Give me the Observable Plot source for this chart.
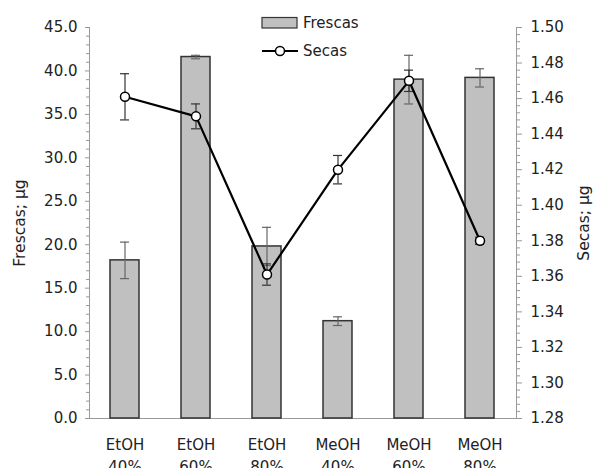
<!DOCTYPE html>
<html>
<head>
<meta charset="utf-8">
<script src="https://cdn.jsdelivr.net/npm/d3@7"></script>
<script src="https://cdn.jsdelivr.net/npm/@observablehq/plot@0.6"></script>
<style>
  html, body { margin: 0; padding: 0; background: #fff; }
  #wrap { position: relative; width: 595px; height: 468px; font-family: "DejaVu Sans", "Liberation Sans", Arial, sans-serif; color: #222; }
  .ytitle { position: absolute; font-size: 15.5px; white-space: nowrap; transform-origin: center center; }
  #legend { position: absolute; left: 261px; top: 12px; font-size: 15px; }
  #legend .row { display: flex; align-items: center; height: 22px; margin-bottom: 6px; }
  #legend svg { margin-right: 4px; }
</style>
</head>
<body>
<div id="wrap"></div>
<script>
const solvents = ["EtOH", "EtOH", "EtOH", "MeOH", "MeOH", "MeOH"];
const concentrations = ["40%", "60%", "80%", "40%", "60%", "80%"];
const frescas = [18.2, 41.6, 19.8, 11.2, 39.0, 39.2];
const frescasErr = [2.1, 0.2, 2.2, 0.5, 2.8, 1.05];
const secas = [1.461, 1.450, 1.361, 1.420, 1.470, 1.380];
const secasErr = [0.013, 0.007, 0.006, 0.008, 0.006, 0.002];
const leftTicks = [0, 5, 10, 15, 20, 25, 30, 35, 40, 45];
const rightTicks = [1.28, 1.30, 1.32, 1.34, 1.36, 1.38, 1.40, 1.42, 1.44, 1.46, 1.48, 1.50];
const leftDomain = [0, 45];
const rightDomain = [1.28, 1.50];

const toLeft = v => (v - rightDomain[0]) / (rightDomain[1] - rightDomain[0]) * (leftDomain[1] - leftDomain[0]) + leftDomain[0];
const fromLeft = y => (y - leftDomain[0]) / (leftDomain[1] - leftDomain[0]) * (rightDomain[1] - rightDomain[0]) + rightDomain[0];

const data = solvents.map((s, i) => ({
  cat: s + "\n" + concentrations[i],
  fr: frescas[i], frLo: frescas[i] - frescasErr[i], frHi: frescas[i] + frescasErr[i],
  se: toLeft(secas[i]), seLo: toLeft(secas[i] - secasErr[i]), seHi: toLeft(secas[i] + secasErr[i])
}));
const cats = data.map(d => d.cat);

const leftMinor = d3.range(0, 45.001, 1).filter(v => v % 5 !== 0);
const rightMinor = d3.range(0, 56).map(i => toLeft(1.28 + i * 0.004)).filter((v, i) => i % 5 !== 0);

const axisColor = "#999";
const font = "DejaVu Sans, Liberation Sans, Arial, sans-serif";

const chart = Plot.plot({
  width: 595,
  height: 468,
  marginLeft: 89,
  marginRight: 79,
  marginTop: 27,
  marginBottom: 50,
  style: { fontFamily: font, fontSize: "15px", color: "#222", background: "#fff" },
  x: { type: "band", domain: cats, paddingInner: 0.59, paddingOuter: 0.295, axis: null },
  y: { domain: leftDomain, axis: null },
  marks: [
    Plot.frame({ anchor: "left", stroke: axisColor }),
    Plot.frame({ anchor: "right", stroke: axisColor }),
    Plot.ruleY([0], { stroke: axisColor }),
    Plot.axisY(leftTicks, { anchor: "left", tickSize: 4, tickPadding: 8, stroke: axisColor, tickFormat: d => d.toFixed(1), label: null, fill: "#222", fontSize: 15 }),
    Plot.axisY(leftMinor, { anchor: "left", tickSize: 3, stroke: axisColor, tickFormat: () => "", label: null }),
    Plot.axisY(rightTicks.map(toLeft), { anchor: "right", tickSize: 5, tickPadding: 9, stroke: axisColor, tickFormat: d => fromLeft(d).toFixed(2), label: null, fill: "#222", fontSize: 15 }),
    Plot.axisY(rightMinor, { anchor: "right", tickSize: 3, stroke: axisColor, tickFormat: () => "", label: null }),
    Plot.axisX(cats, { anchor: "bottom", tickSize: 0, tickPadding: 16, label: null, fontSize: 15, fill: "#222", lineHeight: 1.45 }),
    Plot.barY(data, { x: "cat", y: "fr", fill: "#c0c0c0", stroke: "#333", strokeWidth: 1.5 }),
    Plot.ruleX(data, { x: "cat", y1: "frLo", y2: "frHi", stroke: "#666", strokeWidth: 1.2 }),
    Plot.tickY(data, { x: "cat", y: "frLo", stroke: "#666", strokeWidth: 1.2, insetLeft: 10, insetRight: 10 }),
    Plot.tickY(data, { x: "cat", y: "frHi", stroke: "#666", strokeWidth: 1.2, insetLeft: 10, insetRight: 10 }),
    Plot.ruleX(data, { x: "cat", y1: "seLo", y2: "seHi", stroke: "#333", strokeWidth: 1.2 }),
    Plot.tickY(data, { x: "cat", y: "seLo", stroke: "#333", strokeWidth: 1.2, insetLeft: 10, insetRight: 10 }),
    Plot.tickY(data, { x: "cat", y: "seHi", stroke: "#333", strokeWidth: 1.2, insetLeft: 10, insetRight: 10 }),
    Plot.line(data, { x: "cat", y: "se", stroke: "#000", strokeWidth: 2.2 }),
    Plot.dot(data, { x: "cat", y: "se", r: 4.5, fill: "#fff", stroke: "#000", strokeWidth: 1.5 })
  ]
});

const wrap = document.getElementById("wrap");
wrap.appendChild(chart);

const t1 = document.createElement("div");
t1.className = "ytitle";
t1.textContent = "Frescas; µg";
wrap.appendChild(t1);
const w1 = t1.getBoundingClientRect().width, h1 = t1.getBoundingClientRect().height;
t1.style.left = (20 - w1 / 2) + "px";
t1.style.top = (223 - h1 / 2) + "px";
t1.style.transform = "rotate(-90deg)";

const t2 = document.createElement("div");
t2.className = "ytitle";
t2.textContent = "Secas; µg";
wrap.appendChild(t2);
const w2 = t2.getBoundingClientRect().width, h2 = t2.getBoundingClientRect().height;
t2.style.left = (584 - w2 / 2) + "px";
t2.style.top = (223 - h2 / 2) + "px";
t2.style.transform = "rotate(-90deg)";

const legend = document.createElement("div");
legend.id = "legend";
legend.innerHTML =
  '<div class="row"><svg width="38" height="14"><rect x="1" y="1.5" width="35" height="10.5" fill="#c0c0c0" stroke="#333" stroke-width="1.2"/></svg><span>Frescas</span></div>' +
  '<div class="row"><svg width="38" height="14"><line x1="1" y1="7" x2="37" y2="7" stroke="#000" stroke-width="2.2"/><circle cx="19" cy="7" r="4.5" fill="#fff" stroke="#000" stroke-width="1.5"/></svg><span>Secas</span></div>';
wrap.appendChild(legend);
</script>
</body>
</html>
